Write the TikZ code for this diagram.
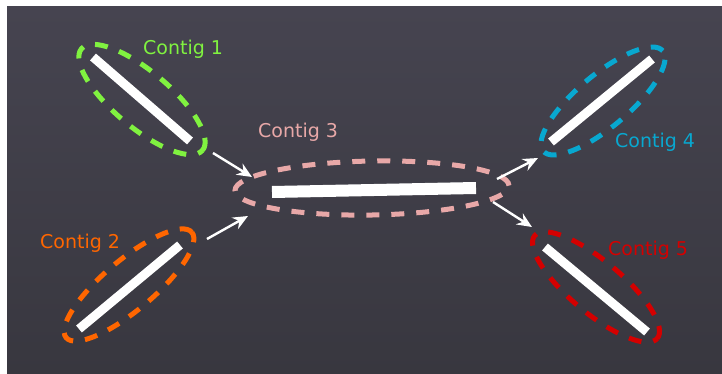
\documentclass[tikz,border=0pt]{standalone}
\usepackage{fontspec}
\setmainfont{DejaVu Sans}
\usetikzlibrary{arrows.meta,shapes.geometric}
\definecolor{limec}{RGB}{128,242,64}
\definecolor{pinkc}{RGB}{232,168,168}
\definecolor{cyanc}{RGB}{8,168,208}
\definecolor{redc}{RGB}{212,0,0}
\definecolor{orangec}{RGB}{255,102,0}
\definecolor{bgtop}{RGB}{70,68,80}
\definecolor{bgbot}{RGB}{56,55,63}
\begin{document}
\begin{tikzpicture}[x=1pt,y=-1pt,
  contig/.style={ellipse, draw, line width=5pt, dash pattern=on 13pt off 12pt, inner sep=0pt},
  bar/.style={white, line width=9pt},
  lbl/.style={anchor=base west, inner sep=0pt, font=\fontsize{19}{22}\selectfont},
  arr/.style={white, line width=2.4pt, -{Stealth[length=15pt,width=13pt,inset=5pt]}}]
\useasboundingbox (0,0) rectangle (722,374);
\shade[top color=bgtop, bottom color=bgbot] (7,7) rectangle (722,374);
% bars
\draw[bar] (93,57) -- (190,141);
\draw[bar] (79,329) -- (180,245);
\draw[bar, line width=12pt] (272,192) -- (476,188);
\draw[bar] (551,142) -- (652,59);
\draw[bar] (545,247) -- (647,332);
% ellipses
\node[contig, limec, minimum width=158pt, minimum height=56pt, rotate=-40] (c1) at (142,99.5) {};
\node[contig, orangec, minimum width=164pt, minimum height=50pt, rotate=40] (c2) at (129,285) {};
\node[contig, pinkc, minimum width=274pt, minimum height=54pt, rotate=1] (c3) at (372,188) {};
\node[contig, cyanc, minimum width=156pt, minimum height=52pt, rotate=40] (c4) at (603,101) {};
\node[contig, redc, minimum width=160pt, minimum height=52pt, rotate=-40] (c5) at (596,287) {};
% labels
\node[lbl, limec] (l1) at (143,55) {Contig 1};
\node[lbl, orangec] (l2) at (40,248) {Contig 2};
\node[lbl, pinkc] (l3) at (258,138) {Contig 3};
\node[lbl, cyanc] (l4) at (615,148) {Contig 4};
\node[lbl, redc] (l5) at (608,255) {Contig 5};
% arrow ends
\coordinate (a1s) at (213,153); \coordinate (a1e) at (252,177);
\coordinate (a2s) at (207,239); \coordinate (a2e) at (248,216);
\coordinate (a3s) at (497,179); \coordinate (a3e) at (538,158);
\coordinate (a4s) at (493,202); \coordinate (a4e) at (532,227);
\draw[arr] (a1s) -- (a1e);
\draw[arr] (a2s) -- (a2e);
\draw[arr] (a3s) -- (a3e);
\draw[arr] (a4s) -- (a4e);
\end{tikzpicture}
\end{document}
